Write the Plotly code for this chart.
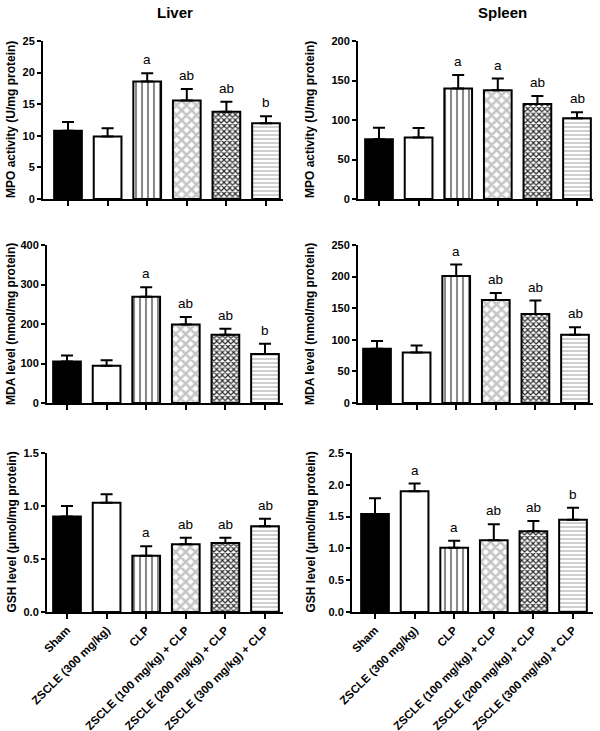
import plotly.graph_objects as go

categories = ["Sham", "ZSCLE (300 mg/kg)", "CLP", "ZSCLE (100 mg/kg) + CLP",
              "ZSCLE (200 mg/kg) + CLP", "ZSCLE (300 mg/kg) + CLP"]

liver_mpo = [10.8, 9.9, 18.6, 15.6, 13.8, 12.0]
liver_mpo_err = [1.4, 1.3, 1.3, 1.8, 1.6, 1.1]
liver_mpo_sig = ["", "", "a", "ab", "ab", "b"]

spleen_mpo = [75.6, 77.7, 139.9, 137.8, 120.2, 102.1]
spleen_mpo_err = [14.7, 12.2, 17.1, 14.7, 10.1, 7.6]
spleen_mpo_sig = ["", "", "a", "a", "ab", "ab"]

liver_mda = [105, 94, 269, 199, 173, 124]
liver_mda_err = [15, 14, 24, 19, 15, 26]
liver_mda_sig = ["", "", "a", "ab", "ab", "b"]

spleen_mda = [86, 80, 201, 163, 141, 108]
spleen_mda_err = [12, 11, 18, 11, 21, 12]
spleen_mda_sig = ["", "", "a", "ab", "ab", "ab"]

liver_gsh = [0.90, 1.03, 0.53, 0.64, 0.65, 0.81]
liver_gsh_err = [0.10, 0.08, 0.09, 0.06, 0.05, 0.07]
liver_gsh_sig = ["", "", "a", "ab", "ab", "ab"]

spleen_gsh = [1.54, 1.90, 1.01, 1.13, 1.27, 1.45]
spleen_gsh_err = [0.25, 0.12, 0.11, 0.25, 0.16, 0.19]
spleen_gsh_sig = ["", "a", "a", "ab", "ab", "b"]

y_titles = ["MPO activity (U/mg protein)", "MDA level (nmol/mg protein)",
            "GSH level (\u03bcmol/mg protein)"]
col_titles = ["Liver", "Spleen"]

W, H = 600, 731
FONT = "Liberation Sans, Arial, sans-serif"

panels = [
    # values, err, sig, ymax, dtick, fmt, (x0,x1), (ytop,ybot), c0, title
    (liver_mpo, liver_mpo_err, liver_mpo_sig, 25, 5, "d", (43, 283), (41, 199), 68, y_titles[0]),
    (spleen_mpo, spleen_mpo_err, spleen_mpo_sig, 200, 50, "d", (358, 593), (41, 199), 379, y_titles[0]),
    (liver_mda, liver_mda_err, liver_mda_sig, 400, 100, "d", (47, 283), (245, 403), 67, y_titles[1]),
    (spleen_mda, spleen_mda_err, spleen_mda_sig, 250, 50, "d", (358, 593), (245, 403), 377, y_titles[1]),
    (liver_gsh, liver_gsh_err, liver_gsh_sig, 1.5, 0.5, ".1f", (47, 283), (453, 612), 67, y_titles[2]),
    (spleen_gsh, spleen_gsh_err, spleen_gsh_sig, 2.5, 0.5, ".1f", (352, 593), (453, 612), 375, y_titles[2]),
]
STEP = 39.6

colors = ["black", "white", "white", "white", "white", "white"]
shapes = ["", "", "|", "x", "x", "-"]
fgcolors = ["black", "black", "#8a8a8a", "#c4c4c4", "#2a2a2a", "#b0b0b0"]
psizes = [6, 6, 6, 7, 4, 4]
solid = [0.3, 0.3, 0.35, 0.6, 0.5, 0.3]

fig = go.Figure()
layout = dict(width=W, height=H, margin=dict(l=0, r=0, t=0, b=0, autoexpand=False),
              plot_bgcolor="white", paper_bgcolor="white", showlegend=False,
              barmode="overlay", font=dict(family=FONT, color="black"))
annotations = []

for i, (vals, err, sig, ymax, dt, fmt, (x0, x1), (yt, yb), c0, ytitle) in enumerate(panels):
    k = "" if i == 0 else str(i + 1)
    xa, ya = "x" + k, "y" + k
    for j, (c, v, e) in enumerate(zip(categories, vals, err)):
        pat = dict(shape=shapes[j], fgcolor=fgcolors[j], bgcolor=colors[j],
                   size=psizes[j], solidity=solid[j], fillmode="replace")
        fig.add_trace(go.Bar(
            x=[c], y=[v], xaxis=xa, yaxis=ya, width=0.7,
            marker=dict(color=colors[j], line=dict(color="black", width=2), pattern=pat),
            error_y=dict(type="data", array=[e], arrayminus=[0], symmetric=False,
                         color="black", thickness=2, width=6),
            cliponaxis=False,
        ))
    r0 = (x0 - c0) / STEP
    r1 = (x1 - c0) / STEP
    bottom = i >= 4
    layout["xaxis" + k] = dict(
        domain=[x0 / W, x1 / W], anchor=ya, range=[r0, r1], type="category",
        categoryorder="array", categoryarray=categories, automargin=False,
        showline=True, linewidth=2, linecolor="black", ticks="outside", ticklen=5,
        tickwidth=1.5, tickcolor="black", showgrid=False, zeroline=False,
        showticklabels=bottom, tickangle=-45,
        tickfont=dict(family=FONT, size=11.5, color="black", weight="bold"),
    )
    layout["yaxis" + k] = dict(
        domain=[1 - yb / H, 1 - yt / H], anchor=xa, range=[0, ymax], dtick=dt,
        tickformat=fmt, showline=True, linewidth=2, linecolor="black", automargin=False,
        ticks="outside", ticklen=4, tickwidth=1.5, tickcolor="black",
        showgrid=False, zeroline=False,
        tickfont=dict(family=FONT, size=11, color="black", weight="bold"),
    )
    for c, v, e, s in zip(categories, vals, err, sig):
        if s:
            annotations.append(dict(x=c, y=v + e, xref=xa, yref=ya, text=s,
                                    showarrow=False, yanchor="bottom", yshift=4,
                                    font=dict(family=FONT, size=13.5, color="black")))
    tx = 11 if x0 < 300 else 310
    annotations.append(dict(x=tx / W, y=1 - (yt + yb) / 2 / H, xref="paper", yref="paper",
                            text=ytitle, textangle=-90, showarrow=False,
                            xanchor="center", yanchor="middle",
                            font=dict(family=FONT, size=12, color="black", weight="bold")))

for t, cx in zip(col_titles, [175, 502]):
    annotations.append(dict(x=cx / W, y=1 - 12 / H, xref="paper", yref="paper", text=t,
                            showarrow=False, xanchor="center", yanchor="middle",
                            font=dict(family=FONT, size=15, color="black", weight="bold")))

layout["annotations"] = annotations
fig.update_layout(**layout)
fig.write_html("out.html", config={"displayModeBar": False},
               post_script="document.body.style.margin='0';document.body.style.overflow='hidden';")
